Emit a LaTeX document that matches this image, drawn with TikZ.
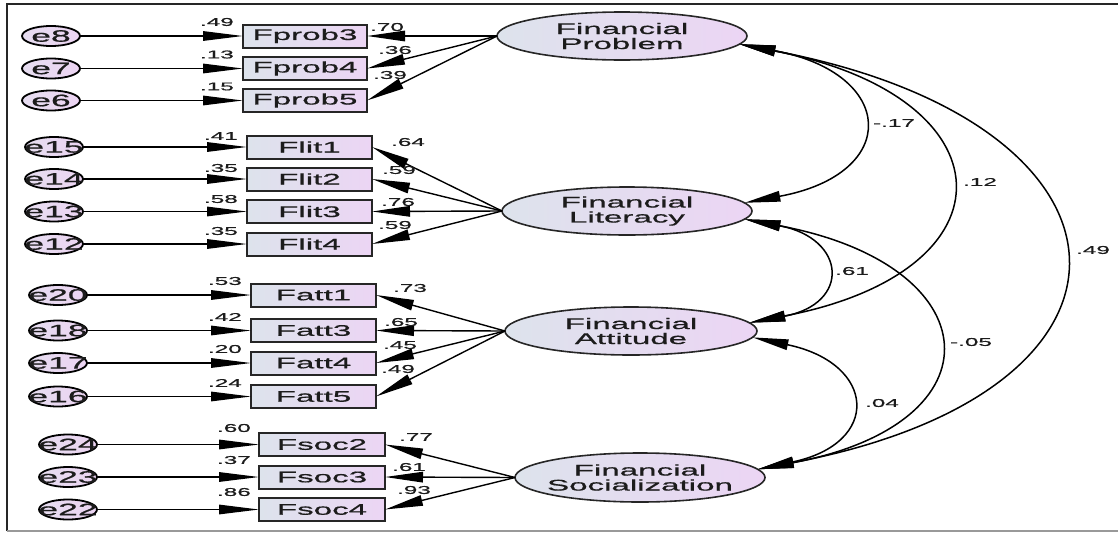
\documentclass[tikz,border=0pt]{standalone}
\usepackage{fontspec}
\setmainfont{Liberation Sans}[FakeStretch=2.15,FakeBold=0.8]
\usetikzlibrary{arrows.meta,shapes.geometric}

\definecolor{shadeL}{HTML}{DDE3EC}
\definecolor{shadeR}{HTML}{ECD5F4}
\definecolor{errL}{HTML}{E6DDF0}
\definecolor{errR}{HTML}{ECD4F2}
\definecolor{rim}{HTML}{262626}
\definecolor{inkc}{HTML}{1C1C1C}

\tikzset{
  obsbox/.style={rectangle, draw=rim, line width=2pt, left color=shadeL, right color=shadeR,
    minimum width=124pt, minimum height=23pt, inner sep=0pt, outer sep=0pt,
    text=inkc, font=\fontsize{15.4}{15}\selectfont},
  latent/.style={ellipse, draw=rim, line width=1.6pt, left color=shadeL, right color=shadeR,
    minimum width=250pt, minimum height=48pt, inner sep=0pt, outer sep=0pt},
  lvtext/.style={align=center, inner sep=0pt, text=inkc, font=\fontsize{15.4}{15}\selectfont},
  errvar/.style={ellipse, draw=black, line width=1.8pt, left color=errL, right color=errR,
    minimum width=58pt, minimum height=20pt, inner sep=0pt, outer sep=0pt},
  errtext/.style={inner sep=0pt, text=inkc, font=\fontsize{16.5}{16}\selectfont},
  coef/.style={inner sep=0pt, text=inkc, font=\fontsize{11.3}{11}\selectfont},
  errpath/.style={line width=1.4pt, -{Triangle[length=40pt,width=9.5pt]}},
  loadpath/.style={line width=1.4pt, -{Triangle[length=38pt,width=10.5pt]}},
  covpath/.style={line width=1.5pt, {Triangle[length=36pt,width=10.5pt]}-{Triangle[length=36pt,width=10.5pt]}},
}

\begin{document}
\begin{tikzpicture}[x=1pt,y=-1pt]
\useasboundingbox (0,0) rectangle (1118,533);

% frame
\draw[line width=1.8pt, draw=rim] (7,531) -- (7,4) -- (1118,4);
\draw[line width=1.4pt, draw=black!40] (7,531) -- (1118,531);

% latent variables
\node[latent] (FP) at (622,36) {};
\node[lvtext] (FPt) at (FP) {Financial\\Problem};
\node[latent] (FL) at (627,211) {};
\node[lvtext] (FLt) at (FL) {Financial\\Literacy};
\node[latent, minimum width=252pt] (FA) at (631,331) {};
\node[lvtext] (FAt) at (FA) {Financial\\Attitude};
\node[latent, minimum height=49pt] (FS) at (640,477.5) {};
\node[lvtext] (FSt) at (FS) {Financial\\Socialization};

% observed indicators
\node[obsbox] (Fprob3) at (305,36) {Fprob3};
\node[obsbox] (Fprob4) at (305,68.5) {Fprob4};
\node[obsbox] (Fprob5) at (305,100.5) {Fprob5};
\node[obsbox, minimum width=125pt] (Flit1) at (309.5,147) {Flit1};
\node[obsbox, minimum width=125pt] (Flit2) at (309.5,179) {Flit2};
\node[obsbox, minimum width=125pt] (Flit3) at (309.5,211.5) {Flit3};
\node[obsbox, minimum width=125pt] (Flit4) at (309.5,244) {Flit4};
\node[obsbox, minimum width=125pt] (Fatt1) at (313.5,295) {Fatt1};
\node[obsbox, minimum width=125pt] (Fatt3) at (313.5,330.5) {Fatt3};
\node[obsbox, minimum width=125pt] (Fatt4) at (313.5,363) {Fatt4};
\node[obsbox, minimum width=125pt] (Fatt5) at (313.5,396.5) {Fatt5};
\node[obsbox, minimum width=126pt] (Fsoc2) at (322,444.5) {Fsoc2};
\node[obsbox, minimum width=126pt] (Fsoc3) at (322,477) {Fsoc3};
\node[obsbox, minimum width=126pt] (Fsoc4) at (322,509.5) {Fsoc4};

% error terms
\foreach \e/\x/\y/\t in {e8/51/36/Fprob3, e7/51/68.5/Fprob4, e6/51/100.5/Fprob5,
    e15/54/147/Flit1, e14/54/179/Flit2, e13/54/211.5/Flit3, e12/54/244/Flit4,
    e20/58/295/Fatt1, e18/58/330.5/Fatt3, e17/58/363/Fatt4, e16/58/396.5/Fatt5,
    e24/68/444.5/Fsoc2, e23/68/477/Fsoc3, e22/68/509.5/Fsoc4}{
  \node[errvar] (\e) at (\x,\y) {};
  \node[errtext] (\e t) at (\e) {\e};
  \draw[errpath] (\e.east) -- (\t.west);
}

% factor loadings
\foreach \f/\t in {FP/Fprob3, FP/Fprob4, FP/Fprob5,
    FL/Flit1, FL/Flit2, FL/Flit3, FL/Flit4,
    FA/Fatt1, FA/Fatt3, FA/Fatt4, FA/Fatt5,
    FS/Fsoc2, FS/Fsoc3, FS/Fsoc4}{
  \draw[loadpath] (\f.west) -- (\t.east);
}

% squared multiple correlations
\foreach \v/\x/\y [count=\i] in {.49/234/22, .13/234/54.5, .15/234/86.5,
    .41/238/136, .35/238/168, .58/238/199, .35/238/231,
    .53/242/281, .42/242/317, .20/242/349, .24/242/383,
    .60/251/428, .37/251/460, .86/251/492}{
  \node[coef, anchor=east] (r\i) at (\x,\y) {\v};
}

% standardized loadings
\foreach \v/\x/\y [count=\i] in {.70/387/27, .36/395/50, .39/390/75,
    .64/408/142, .59/399/170, .76/398/202, .59/395/225,
    .73/410/288, .65/401/322, .45/400/345, .49/398/369,
    .77/416/437, .61/409/467, .93/414/490}{
  \node[coef] (w\i) at (\x,\y) {\v};
}

% correlations between the factors
\draw[covpath] (FP.-4) .. controls +(157,29) and +(157,-29) .. (FL.4);
\draw[covpath] (FP.-4) .. controls +(271,52) and +(271,-52) .. (FA.4);
\draw[covpath] (FP.-4) .. controls +(416,79) and +(416,-79) .. (FS.4);
\draw[covpath] (FL.-4) .. controls +(102,19) and +(102,-19) .. (FA.4);
\draw[covpath] (FL.-4) .. controls +(246,46) and +(246,-46) .. (FS.4);
\draw[covpath] (FA.-3) .. controls +(124,26) and +(124,-26) .. (FS.4);

\node[coef] (c1) at (894,123) {-.17};
\node[coef] (c2) at (980,182) {.12};
\node[coef] (c3) at (1093,250) {.49};
\node[coef] (c4) at (852,271) {.61};
\node[coef] (c5) at (971,342) {-.05};
\node[coef] (c6) at (882,403) {.04};
\end{tikzpicture}
\end{document}
